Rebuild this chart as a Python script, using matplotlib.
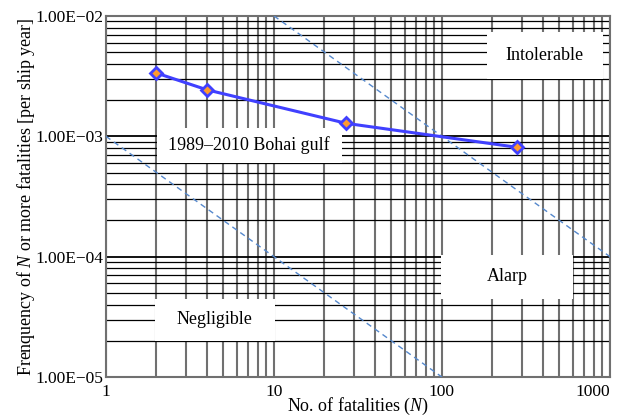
import matplotlib.pyplot as plt
import numpy as np
from matplotlib.patches import Rectangle
from matplotlib.ticker import FixedLocator, FuncFormatter, LogLocator, NullFormatter

plt.rcParams['font.family'] = ['Liberation Serif', 'DejaVu Serif']
plt.rcParams['mathtext.fontset'] = 'custom'
plt.rcParams['mathtext.it'] = 'Liberation Serif:italic'
plt.rcParams['mathtext.rm'] = 'Liberation Serif'

# Bohai gulf F-N data
n_fatal = [2, 4, 27, 280]
freq = [3.35e-3, 2.43e-3, 1.28e-3, 8.1e-4]

# criterion lines (N, F)
upper_n = [10, 1000]
upper_f = [1e-2, 1e-4]
lower_n = [1, 100]
lower_f = [1e-3, 1e-5]

x_ticks = [1, 10, 100, 1000]
y_ticks = [1e-5, 1e-4, 1e-3, 1e-2]

fig = plt.figure(figsize=(6.23, 4.18), dpi=100)
ax = fig.add_axes([0.170, 0.098, 0.809, 0.864])
ax.set_xscale('log')
ax.set_yscale('log')
ax.set_xlim(1, 1000)
ax.set_ylim(1e-5, 1e-2)

# grid: grey verticals, black horizontals
ax.xaxis.set_minor_locator(LogLocator(base=10, subs=np.arange(2, 10)))
ax.yaxis.set_minor_locator(LogLocator(base=10, subs=np.arange(2, 10)))
ax.xaxis.set_minor_formatter(NullFormatter())
ax.yaxis.set_minor_formatter(NullFormatter())
ax.xaxis.grid(True, which='both', color='#707070', lw=1.5, zorder=0)
ax.yaxis.grid(True, which='minor', color='black', lw=0.9, zorder=0)
ax.yaxis.grid(True, which='major', color='black', lw=1.3, zorder=0)
ax.set_axisbelow(True)

ax.xaxis.set_major_locator(FixedLocator(x_ticks))
ax.xaxis.set_major_formatter(FuncFormatter(lambda v, p: '%d' % v))
ax.yaxis.set_major_locator(FixedLocator(y_ticks))
ax.yaxis.set_major_formatter(FuncFormatter(
    lambda v, p: ('%.2E' % v).replace('-', '\u2212')))
ax.tick_params(which='both', length=0, labelsize=12.5, pad=2)
ax.tick_params(axis='x', pad=5)
ax.get_xticklabels()[-1].set_horizontalalignment('right')
for s in ax.spines.values():
    s.set_color('#707070')
    s.set_linewidth(1.5)

# white label boxes
boxes = [
    (0.756, 0.825, 0.230, 0.131, 'Intolerable'),
    (0.101, 0.593, 0.367, 0.097, '1989\u20132010 Bohai gulf'),
    (0.097, 0.100, 0.238, 0.116, 'Negligible'),
    (0.665, 0.216, 0.262, 0.122, 'Alarp'),
]
for bx, by, bw, bh, txt in boxes:
    ax.add_patch(Rectangle((bx, by), bw, bh, transform=ax.transAxes,
                           facecolor='white', edgecolor='none', zorder=2))
    ax.text(bx + bw / 2, by + bh / 2, txt, transform=ax.transAxes,
            ha='center', va='center', fontsize=13, zorder=3)

ax.plot(upper_n, upper_f, ls=(0, (4, 3)), color='#5588cc', lw=1.0, zorder=4)
ax.plot(lower_n, lower_f, ls=(0, (4, 3)), color='#5588cc', lw=1.0, zorder=4)

ax.plot(n_fatal, freq, color='#4040ff', lw=2.2, marker='D', markersize=6,
        markerfacecolor='#ff9a2e', markeredgecolor='#4040ff',
        markeredgewidth=2.0, zorder=5, clip_on=False)

ax.set_xlabel('No. of fatalities ($N$)', fontsize=13, labelpad=-3)
ax.set_ylabel('Frenquency of $N$ or more fatalities [per ship year]',
              fontsize=13, labelpad=-1)

fig.savefig('out.png', dpi=100)
